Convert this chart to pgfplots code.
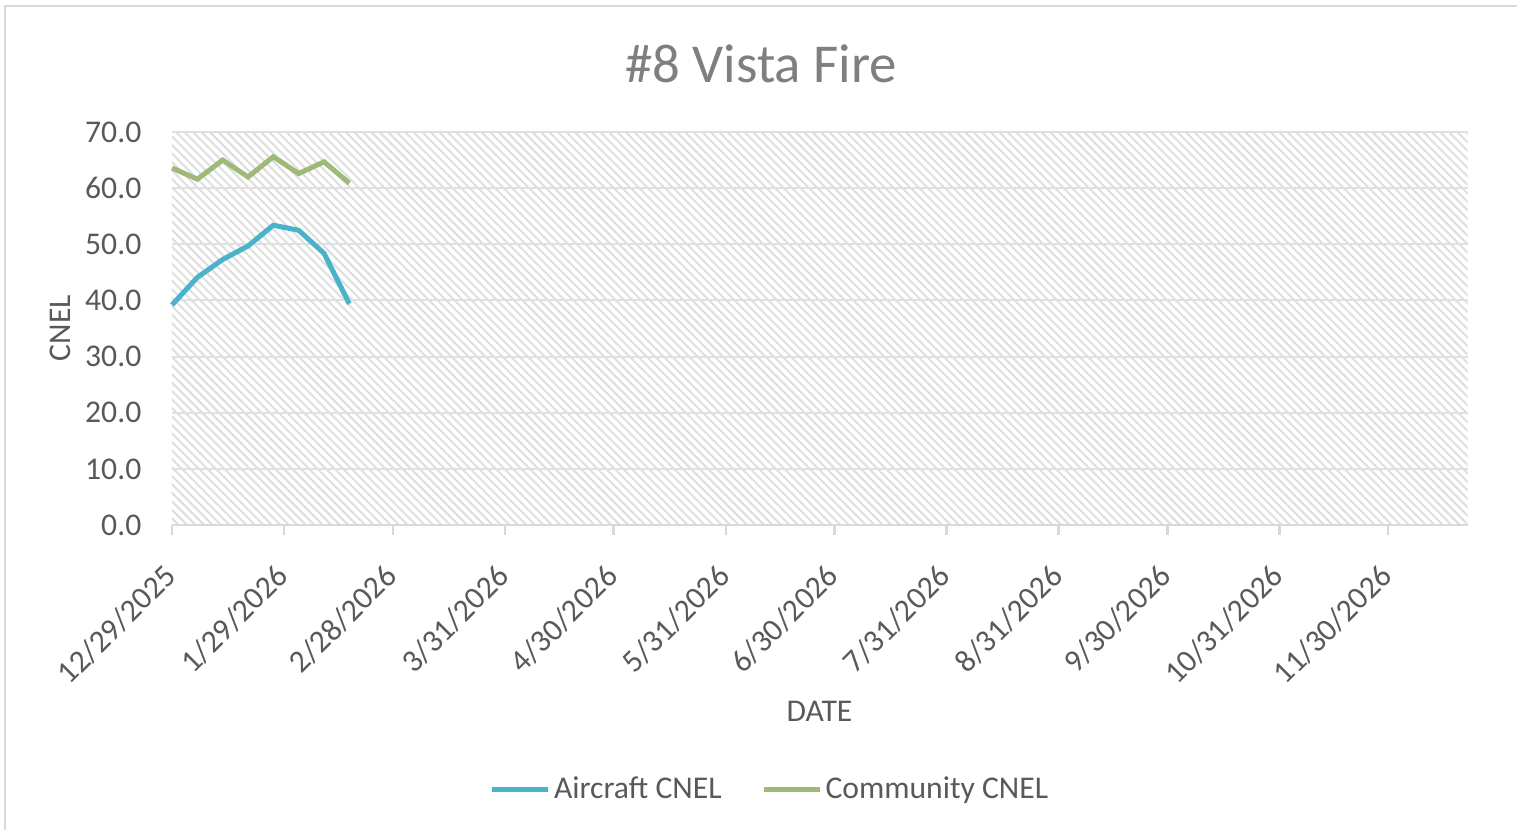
\documentclass[border=0pt]{standalone}
\usepackage{pgfplots}
\pgfplotsset{compat=1.18}
\usepackage{fontspec}
\setmainfont{Carlito}
\usetikzlibrary{patterns.meta}

\definecolor{aircraft}{HTML}{4AB2C9}
\definecolor{community}{HTML}{9FBA78}
\definecolor{txt}{HTML}{595959}
\definecolor{ttl}{HTML}{7F7F7F}
\definecolor{axln}{HTML}{D9D9D9}

\begin{document}
\begin{tikzpicture}
\useasboundingbox (0,0) rectangle (151.7mm,83mm);
% outer chart frame (left and top edges visible)
\draw[axln, line width=0.25mm] (0.5mm,0mm) -- (0.5mm,82.4mm) -- (151.7mm,82.4mm);

\node[anchor=base, text=ttl, font=\fontsize{15.6}{18}\selectfont] at (76.1mm,74.8mm) {\#8 Vista Fire};
\node[anchor=base, text=txt, font=\fontsize{9}{11}\selectfont] at (81.95mm,10.9mm) {DATE};
\node[rotate=90, text=txt, font=\fontsize{9}{11}\selectfont] at (6.0mm,50.2mm) {CNEL};

\begin{axis}[
    at={(17.2mm,30.5mm)}, anchor=south west,
    scale only axis, width=129.57mm, height=39.3mm,
    xmin=0, xmax=358, ymin=0, ymax=70,
    axis x line*=bottom, axis y line*=left,
    x axis line style={draw=axln, line width=0.25mm, -},
    y axis line style={draw=none},
    ytick={0,10,...,70},
    ytick style={draw=none},
    xtick={0,31,61,92,122,153,183,214,245,275,306,336},
    xticklabels={12/29/2025,1/29/2026,2/28/2026,3/31/2026,4/30/2026,5/31/2026,6/30/2026,7/31/2026,8/31/2026,9/30/2026,10/31/2026,11/30/2026},
    xtick style={draw=axln, line width=0.25mm},
    tick align=outside, major tick length=1mm,
    ymajorgrids, major grid style={draw=black!12, line width=0.2mm},
    axis background/.style={pattern={Lines[angle=-45,distance=0.6mm,line width=0.2mm]}, pattern color=black!13},
    /pgf/number format/assume math mode=true,
    /pgf/number format/fixed,
    /pgf/number format/fixed zerofill,
    /pgf/number format/precision=1,
    ticklabel style={text=txt, font=\fontsize{9}{11}\selectfont},
    yticklabel style={anchor=east, inner sep=0pt, xshift=-2mm},
    xticklabel style={xshift=-0.1mm, yshift=-3.5mm, rotate=45, anchor=east, inner sep=0pt},
    legend style={at={(0.462,-0.674)}, anchor=center, legend columns=2, draw=none, fill=none,
        font=\fontsize{9}{11}\selectfont, text=txt,
        nodes={inner sep=0.35mm},
        /tikz/every even column/.append style={column sep=3.6mm}},
    legend image code/.code={\draw[#1, line width=0.5mm] (0mm,0mm) -- (5.6mm,0mm);},
    clip=false,
]
\addplot[aircraft, line width=0.5mm] coordinates {
    (0,39.2) (7,44.1) (14,47.3) (21,49.7) (28,53.4) (35,52.5) (42,48.4) (49,39.4)
};
\addlegendentry{Aircraft CNEL}
\addplot[community, line width=0.5mm] coordinates {
    (0,63.6) (7,61.6) (14,65.0) (21,62.0) (28,65.6) (35,62.6) (42,64.7) (49,60.9)
};
\addlegendentry{Community CNEL}
\end{axis}
\end{tikzpicture}
\end{document}
